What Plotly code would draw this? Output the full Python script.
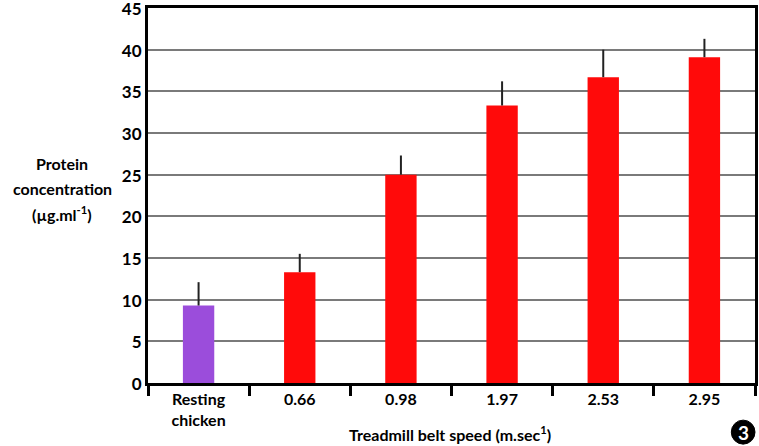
import plotly.graph_objects as go

# ------------------------------------------------------------
# DATA
# ------------------------------------------------------------
categories = ["Resting<br>chicken", "0.66", "0.98", "1.97", "2.53", "2.95"]
protein = [9.3, 13.3, 25.0, 33.3, 36.7, 39.1]
err_up = [2.8, 2.2, 2.3, 2.9, 3.3, 2.2]
bar_colors = ["#9B4DDB", "#FF0A0A", "#FF0A0A", "#FF0A0A", "#FF0A0A", "#FF0A0A"]
y_title_lines = ["Protein", "concentration", "(µg.ml<sup>-1</sup>)"]

FONT = "Lato"

fig = go.Figure()

fig.add_trace(
    go.Bar(
        x=categories, y=protein,
        marker=dict(color=bar_colors, line=dict(width=0)),
        error_y=dict(type="data", symmetric=False, array=err_up,
                     arrayminus=[0] * len(err_up), width=0,
                     color="#222222", thickness=2),
        hoverinfo="x+y",
    )
)

fig.update_layout(
    width=759, height=446,
    margin=dict(l=148, r=4, t=8, b=63),
    plot_bgcolor="white", paper_bgcolor="white",
    bargap=0.69,
    showlegend=False,
    font=dict(family=FONT, size=16, color="black"),
)

fig.update_xaxes(
    automargin=False,
    showline=True, linecolor="black", linewidth=3, mirror=True,
    ticks="outside", tickson="boundaries", ticklen=10, tickwidth=3,
    tickcolor="black", showgrid=False,
    tickfont=dict(family=FONT, size=16, color="black", weight="bold"),
)
fig.update_yaxes(
    automargin=False,
    range=[0, 45], tickmode="linear", tick0=0, dtick=5,
    ticklabeloverflow="allow", ticklabelshift=1,
    showline=True, linecolor="black", linewidth=3, mirror=True,
    showgrid=True, gridcolor="#7a7a7a", gridwidth=1.5,
    zeroline=False, ticks="", ticklen=0,
    tickfont=dict(family=FONT, size=17, color="black", weight="bold"),
)

# y axis title, one line per annotation (wider line spacing than <br>)
for i, line in enumerate(y_title_lines):
    fig.add_annotation(
        text=line,
        xref="paper", yref="paper", x=-0.141, y=0.585 - i * 0.066,
        xanchor="center", yanchor="middle", showarrow=False,
        font=dict(family=FONT, size=16, color="black", weight="bold"),
    )

fig.add_annotation(
    text="Treadmill belt speed (m.sec<sup>1</sup>)",
    xref="paper", yref="paper", x=0.498, y=-0.100,
    xanchor="center", yanchor="top", showarrow=False,
    font=dict(family=FONT, size=16, color="black", weight="bold"),
)

# figure number badge
fig.add_shape(
    type="circle", xref="paper", yref="paper",
    x0=0.961, x1=1.000, y0=-0.163, y1=-0.099,
    fillcolor="black", line=dict(color="black", width=1),
)
fig.add_annotation(
    text="3", xref="paper", yref="paper", x=0.9805, y=-0.131,
    xanchor="center", yanchor="middle", showarrow=False,
    font=dict(family=FONT, size=19, color="white", weight="bold"),
)

# drop the browser's default 8px body margin so the figure sits at 0,0
fig.write_html("out.html", config={"displayModeBar": False},
               post_script="document.body.style.margin='0';")
